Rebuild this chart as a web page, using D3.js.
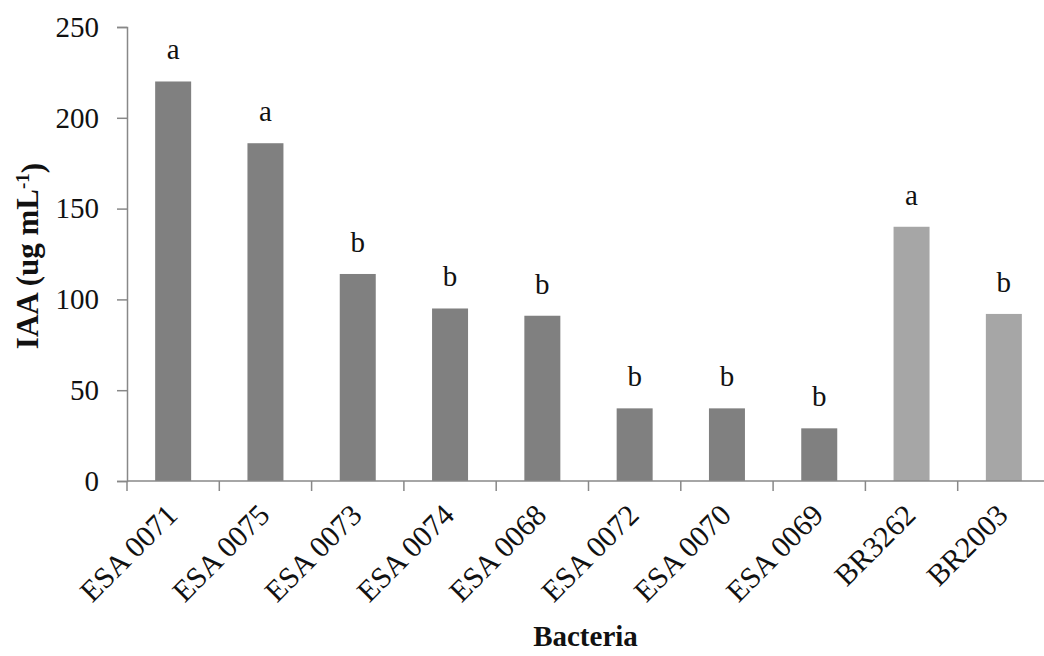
<!DOCTYPE html>
<html>
<head>
<meta charset="utf-8">
<script src="https://cdn.jsdelivr.net/npm/d3@7"></script>
<style>
  body { margin: 0; background: #fff; }
  text { font-family: "Liberation Serif", "Times New Roman", serif; fill: #111; }
</style>
</head>
<body>
<svg id="chart" width="1044" height="656"></svg>
<script>
// data
var bacteria = ["ESA 0071", "ESA 0075", "ESA 0073", "ESA 0074", "ESA 0068",
                "ESA 0072", "ESA 0070", "ESA 0069", "BR3262", "BR2003"];
var iaaValues = [220, 186, 114, 95, 91, 40, 40, 29, 140, 92];
var groupLetters = ["a", "a", "b", "b", "b", "b", "b", "b", "a", "b"];
var isReference = [false, false, false, false, false, false, false, false, true, true];
var yTicks = [0, 50, 100, 150, 200, 250];

var svg = d3.select("#chart");
var margin = {top: 27, left: 127, bottom: 175};
var plotRight = 1050, plotBottom = 481;

var x = d3.scaleBand()
    .domain(bacteria)
    .range([margin.left, plotRight])
    .paddingInner(0.61)
    .paddingOuter(0.305);

var y = d3.scaleLinear()
    .domain([0, 250])
    .range([plotBottom, margin.top]);

// bars
svg.append("g").selectAll("rect")
    .data(bacteria)
    .enter().append("rect")
    .attr("x", function (d) { return x(d); })
    .attr("width", x.bandwidth())
    .attr("y", function (d, i) { return y(iaaValues[i]); })
    .attr("height", function (d, i) { return plotBottom - y(iaaValues[i]); })
    .attr("fill", function (d, i) { return isReference[i] ? "#a6a6a6" : "#808080"; });

// letters above bars
svg.append("g").selectAll("text")
    .data(bacteria)
    .enter().append("text")
    .attr("x", function (d) { return x(d) + x.bandwidth() / 2; })
    .attr("y", function (d, i) { return y(iaaValues[i]) - 22; })
    .attr("text-anchor", "middle")
    .style("font-size", "29px")
    .text(function (d, i) { return groupLetters[i]; });

// y axis
var yAxis = svg.append("g")
    .attr("transform", "translate(" + margin.left + ",0)")
    .call(d3.axisLeft(y).tickValues(yTicks).tickSize(10).tickPadding(18));
yAxis.select(".domain").attr("stroke", "#888").attr("stroke-width", 1.5);
yAxis.selectAll(".tick line").attr("stroke", "#888").attr("stroke-width", 1.5);
yAxis.selectAll(".tick text")
    .style("font-size", "29px")
    .style("font-family", "'Liberation Serif', serif")
    .attr("fill", "#111");

// x axis: ticks sit on band edges
var xEdges = d3.range(bacteria.length + 1).map(function (i) {
  return margin.left + i * x.step();
});
var xAxis = svg.append("g");
xAxis.append("line")
    .attr("x1", margin.left).attr("x2", plotRight)
    .attr("y1", plotBottom).attr("y2", plotBottom)
    .attr("stroke", "#888").attr("stroke-width", 1.5);
xAxis.selectAll(".edge")
    .data(xEdges)
    .enter().append("line")
    .attr("class", "edge")
    .attr("x1", function (d) { return d; }).attr("x2", function (d) { return d; })
    .attr("y1", plotBottom).attr("y2", plotBottom + 10)
    .attr("stroke", "#888").attr("stroke-width", 1.5);

xAxis.selectAll(".label")
    .data(bacteria)
    .enter().append("text")
    .attr("class", "label")
    .attr("text-anchor", "end")
    .style("font-size", "30px")
    .attr("transform", function (d) {
      var cx = x(d) + x.bandwidth() / 2;
      return "translate(" + (cx - 9) + "," + (plotBottom + 21) + ") rotate(-45)";
    })
    .attr("dy", "0.7em")
    .text(function (d) { return d; });

// axis titles
svg.append("text")
    .attr("x", (margin.left + plotRight) / 2 - 3)
    .attr("y", 646)
    .attr("text-anchor", "middle")
    .style("font-size", "29px")
    .style("font-weight", "bold")
    .text("Bacteria");

var yTitle = svg.append("text")
    .attr("transform", "translate(38,256) rotate(-90)")
    .attr("text-anchor", "middle")
    .style("font-size", "31px")
    .style("font-weight", "bold");
yTitle.append("tspan").text("IAA (ug mL");
yTitle.append("tspan").attr("dy", "-0.45em").style("font-size", "19px").text("-1");
yTitle.append("tspan").attr("dy", "0.45em").text(")");
</script>
</body>
</html>
